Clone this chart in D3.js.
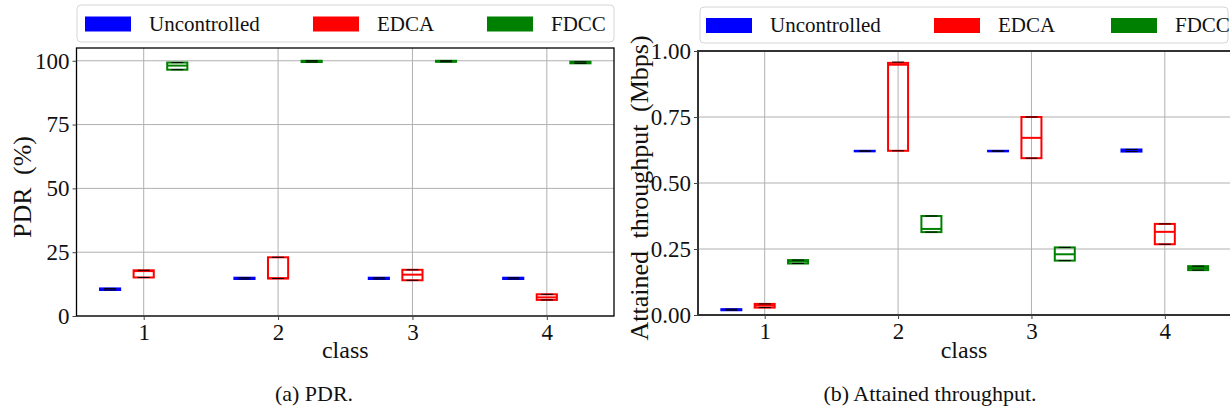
<!DOCTYPE html>
<html>
<head>
<meta charset="utf-8">
<script src="https://cdn.jsdelivr.net/npm/d3@7"></script>
<style>
  body { margin: 0; background: #fff; }
  svg text { font-family: "Liberation Serif", "DejaVu Serif", serif; fill: #111; }
</style>
</head>
<body>
<svg id="chart" width="1230" height="412"></svg>
<script>
// ---- data ----------------------------------------------------------------
const classes = [1, 2, 3, 4];
const seriesNames = ["Uncontrolled", "EDCA", "FDCC"];

// Box summaries per class: [whisker low, q1, median, q3, whisker high]
const pdrUncontrolled = [[10.2, 10.2, 10.5, 10.8, 10.8], [14.5, 14.5, 14.8, 15.0, 15.0], [14.5, 14.5, 14.8, 15.0, 15.0], [14.5, 14.5, 14.8, 15.0, 15.0]];
const pdrEdca         = [[15.1, 15.1, 17.6, 17.9, 17.9], [14.7, 14.7, 14.8, 23.0, 23.0], [14.0, 14.0, 16.2, 18.1, 18.1], [6.3, 6.3, 7.3, 8.5, 8.5]];
const pdrFdcc         = [[96.5, 96.5, 98.1, 99.3, 99.3], [99.5, 99.5, 99.7, 100.0, 100.0], [99.6, 99.6, 99.8, 100.0, 100.0], [99.0, 99.0, 99.3, 99.6, 99.6]];

const thrUncontrolled = [[0.018, 0.018, 0.020, 0.022, 0.022], [0.620, 0.620, 0.621, 0.622, 0.622], [0.620, 0.620, 0.621, 0.622, 0.622], [0.619, 0.619, 0.622, 0.627, 0.627]];
const thrEdca         = [[0.028, 0.028, 0.036, 0.042, 0.042], [0.622, 0.622, 0.948, 0.955, 0.958], [0.594, 0.594, 0.671, 0.750, 0.750], [0.268, 0.268, 0.315, 0.345, 0.345]];
const thrFdcc         = [[0.195, 0.195, 0.2025, 0.208, 0.208], [0.314, 0.314, 0.326, 0.375, 0.375], [0.206, 0.206, 0.230, 0.256, 0.256], [0.170, 0.170, 0.178, 0.185, 0.185]];

const pdrTicks = [0, 25, 50, 75, 100];
const thrTicks = [0, 0.25, 0.50, 0.75, 1.00];

// ---- styling -------------------------------------------------------------
const seriesColors = ["#0000ff", "#ff0000", "#008000"];
const seriesOffsets = [-0.25, 0, 0.25];
const boxWidth = 0.15;

const svg = d3.select("#chart");

function drawPanel(cfg) {
  const g = svg.append("g");
  const x = d3.scaleLinear().domain([0.5, 4.5]).range([cfg.left, cfg.right]);
  const y = d3.scaleLinear().domain(cfg.yDomain).range([cfg.bottom, cfg.top]);

  // grid
  const grid = g.append("g").attr("class", "grid");
  grid.selectAll("line.gx").data(classes).join("line")
    .attr("x1", d => x(d)).attr("x2", d => x(d))
    .attr("y1", cfg.top).attr("y2", cfg.bottom)
    .attr("stroke", "#b0b0b0").attr("stroke-width", 1);
  grid.selectAll("line.gy").data(cfg.ticks).join("line")
    .attr("x1", cfg.left).attr("x2", cfg.right)
    .attr("y1", d => y(d)).attr("y2", d => y(d))
    .attr("stroke", "#b0b0b0").attr("stroke-width", 1);

  // boxes
  cfg.series.forEach((rows, si) => {
    const color = seriesColors[si];
    const sg = g.append("g");
    rows.forEach((r, ci) => {
      const cx = classes[ci] + seriesOffsets[si];
      const x0 = x(cx - boxWidth / 2), x1 = x(cx + boxWidth / 2);
      const capHalf = (x1 - x0) * 0.3;
      const mid = x(cx);
      // whiskers
      sg.append("line").attr("x1", mid).attr("x2", mid)
        .attr("y1", y(r[0])).attr("y2", y(r[1])).attr("stroke", "#000").attr("stroke-width", 1);
      sg.append("line").attr("x1", mid).attr("x2", mid)
        .attr("y1", y(r[3])).attr("y2", y(r[4])).attr("stroke", "#000").attr("stroke-width", 1);
      // box
      sg.append("rect")
        .attr("x", x0).attr("y", y(r[3]))
        .attr("width", x1 - x0).attr("height", Math.max(0, y(r[1]) - y(r[3])))
        .attr("fill", "none").attr("stroke", color).attr("stroke-width", 2);
      // median
      sg.append("line").attr("x1", x0).attr("x2", x1)
        .attr("y1", y(r[2])).attr("y2", y(r[2]))
        .attr("stroke", color).attr("stroke-width", 2);
      // caps
      [r[0], r[4]].forEach(v => {
        sg.append("line").attr("x1", mid - capHalf).attr("x2", mid + capHalf)
          .attr("y1", y(v)).attr("y2", y(v))
          .attr("stroke", "#000").attr("stroke-width", 1);
      });
    });
  });

  // frame
  g.append("rect")
    .attr("x", cfg.left).attr("y", cfg.top)
    .attr("width", cfg.right - cfg.left).attr("height", cfg.bottom - cfg.top)
    .attr("fill", "none").attr("stroke", cfg.frameColor).attr("stroke-width", cfg.frameWidth);

  // axes
  const yAxis = d3.axisLeft(y).tickValues(cfg.ticks).tickSize(4).tickPadding(3).tickFormat(cfg.tickFormat);
  const ya = g.append("g").attr("transform", `translate(${cfg.left},0)`).call(yAxis);
  ya.select(".domain").remove();
  ya.selectAll(".tick line").attr("stroke", "#444");
  ya.selectAll(".tick text").attr("font-size", 23).attr("fill", "#111")
    .style("font-family", '"Liberation Serif", serif');

  const xAxis = d3.axisBottom(x).tickValues(classes).tickSize(4).tickPadding(4).tickFormat(d3.format("d"));
  const xa = g.append("g").attr("transform", `translate(0,${cfg.bottom})`).call(xAxis);
  xa.select(".domain").remove();
  xa.selectAll(".tick line").attr("stroke", "#444");
  xa.selectAll(".tick text").attr("font-size", 23).attr("fill", "#111")
    .style("font-family", '"Liberation Serif", serif');

  // axis titles
  g.append("text")
    .attr("x", (cfg.left + Math.min(cfg.right, 1230)) / 2 + cfg.xLabelShift).attr("y", 358)
    .attr("text-anchor", "middle").attr("font-size", 24)
    .text("class");
  g.append("text")
    .attr("transform", `translate(${cfg.yLabelX},${cfg.yLabelY}) rotate(-90)`)
    .attr("text-anchor", "middle").attr("font-size", 26)
    .style("word-spacing", "6px")
    .text(cfg.yLabel);

  // caption
  g.append("text")
    .attr("x", cfg.captionX).attr("y", 401)
    .attr("text-anchor", "middle").attr("font-size", 22)
    .text(cfg.caption);

  // legend
  const lg = g.append("g").attr("transform", `translate(${cfg.legend.x},${cfg.legend.y})`);
  lg.append("rect")
    .attr("width", cfg.legend.w).attr("height", cfg.legend.h)
    .attr("rx", 4).attr("ry", 4)
    .attr("fill", "#fff").attr("fill-opacity", 0.85)
    .attr("stroke", "#d6d6d6").attr("stroke-width", 1);
  seriesNames.forEach((name, i) => {
    const ox = cfg.legend.cols[i];
    lg.append("rect")
      .attr("x", ox).attr("y", cfg.legend.h / 2 - 7)
      .attr("width", 46).attr("height", 15)
      .attr("fill", seriesColors[i]);
    lg.append("text")
      .attr("x", ox + 64).attr("y", cfg.legend.h / 2 + 7)
      .attr("font-size", 21)
      .text(name);
  });
}

drawPanel({
  left: 76.5, right: 614, top: 48, bottom: 316,
  yDomain: [0, 105], ticks: pdrTicks, tickFormat: d3.format("d"),
  series: [pdrUncontrolled, pdrEdca, pdrFdcc],
  frameColor: "#000", frameWidth: 1.3,
  yLabel: "PDR (%)", yLabelX: 31, yLabelY: 187, xLabelShift: 0,
  caption: "(a) PDR.", captionX: 314,
  legend: { x: 77, y: 5, w: 537, h: 37, cols: [8, 236, 410] }
});

drawPanel({
  left: 698, right: 1231.5, top: 51, bottom: 315,
  yDomain: [0, 1], ticks: thrTicks, tickFormat: d3.format(".2f"),
  series: [thrUncontrolled, thrEdca, thrFdcc],
  frameColor: "#333", frameWidth: 2,
  yLabel: "Attained throughput (Mbps)", yLabelX: 648, yLabelY: 188, xLabelShift: 0,
  caption: "(b) Attained throughput.", captionX: 930,
  legend: { x: 700, y: 7, w: 528, h: 36, cols: [6, 234, 411] }
});
</script>
</body>
</html>
